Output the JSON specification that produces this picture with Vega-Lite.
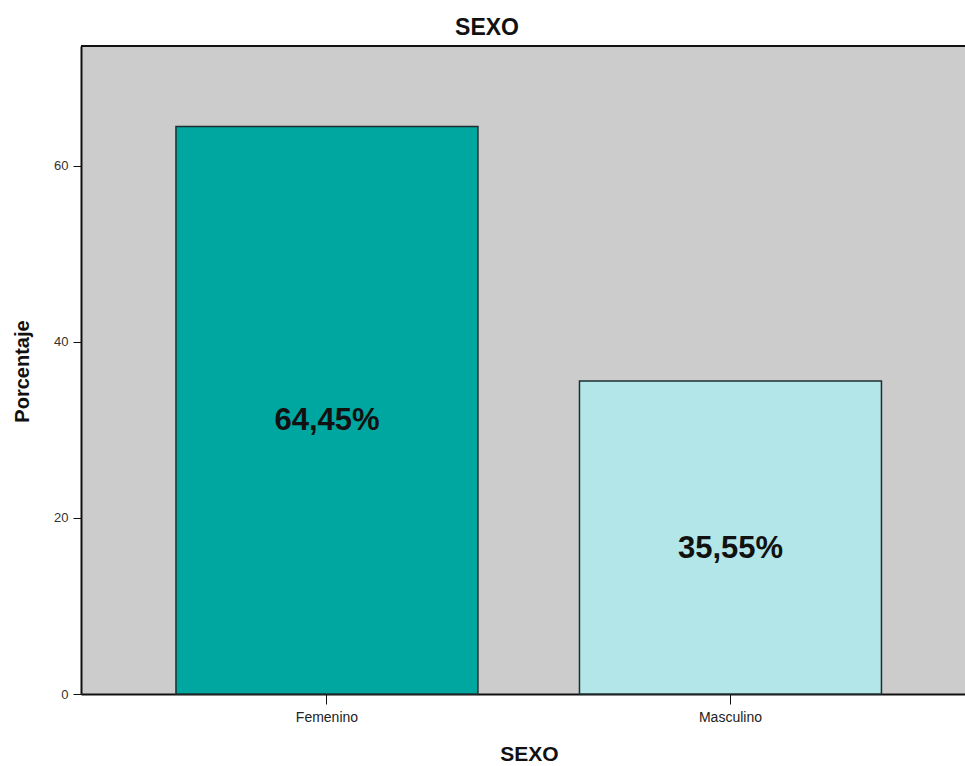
{
  "$schema": "https://vega.github.io/schema/vega-lite/v6.json",
  "autosize": "none",
  "padding": {"left": 81, "top": 46, "right": 0, "bottom": 72},
  "width": 884,
  "height": 648,
  "background": "white",
  "config": {
    "font": "Liberation Sans",
    "view": {"fill": "#CCCCCC", "stroke": null}
  },
  "title": {
    "text": "SEXO",
    "fontSize": 23,
    "fontWeight": "bold",
    "color": "#111111",
    "anchor": "middle",
    "frame": "group",
    "baseline": "alphabetic",
    "offset": -13,
    "dx": -36
  },
  "data": {
    "values": [
      {"sexo": "Femenino", "pct": 64.45, "label": "64,45%"},
      {"sexo": "Masculino", "pct": 35.55, "label": "35,55%"}
    ]
  },
  "layer": [
    {
      "mark": {"type": "bar", "stroke": "#1f2f2f", "strokeWidth": 1.5},
      "encoding": {
        "x": {
          "field": "sexo",
          "type": "nominal",
          "sort": null,
          "scale": {"paddingInner": 0.2516, "paddingOuter": 0.2212, "align": 0.532},
          "axis": {
            "title": "SEXO",
            "titleFontSize": 21,
            "titleFontWeight": "bold",
            "titleColor": "#111111",
            "titleX": 448,
            "titleY": 66,
            "titleBaseline": "alphabetic",
            "labelAngle": 0,
            "labelFontSize": 14,
            "labelColor": "#222222",
            "labelPadding": 6,
            "tickSize": 10,
            "tickColor": "#111111",
            "tickWidth": 1,
            "domainColor": "#111111",
            "domainWidth": 2
          }
        },
        "y": {
          "field": "pct",
          "type": "quantitative",
          "scale": {"domain": [0, 73.6], "nice": false},
          "axis": {
            "title": "Porcentaje",
            "titleFontSize": 20,
            "titleFontWeight": "bold",
            "titleColor": "#111111",
            "titleX": -59,
            "titleY": 325,
            "titleAlign": "center",
            "titleBaseline": "middle",
            "titleAngle": -90,
            "values": [0, 20, 40, 60],
            "labelFontSize": 13,
            "labelColor": "#333333",
            "labelPadding": 5,
            "tickSize": 8,
            "tickColor": "#111111",
            "domainColor": "#111111",
            "domainWidth": 2,
            "grid": false
          }
        },
        "color": {
          "field": "sexo",
          "type": "nominal",
          "scale": {"domain": ["Femenino", "Masculino"], "range": ["#00A6A0", "#B3E6E8"]},
          "legend": null
        }
      }
    },
    {
      "mark": {"type": "text", "fontSize": 31, "fontWeight": "bold", "color": "#111111", "baseline": "middle", "dy": 11},
      "encoding": {
        "x": {"field": "sexo", "type": "nominal", "sort": null},
        "y": {"field": "pct", "type": "quantitative", "scale": {"domain": [0, 147.2], "nice": false}, "axis": null},
        "text": {"field": "label"}
      }
    },
    {
      "mark": {"type": "rule", "color": "#111111", "strokeWidth": 2},
      "encoding": {
        "y": {"datum": 73.6, "type": "quantitative", "scale": {"domain": [0, 73.6], "nice": false}, "axis": null}
      }
    }
  ],
  "resolve": {"scale": {"y": "independent"}}
}
